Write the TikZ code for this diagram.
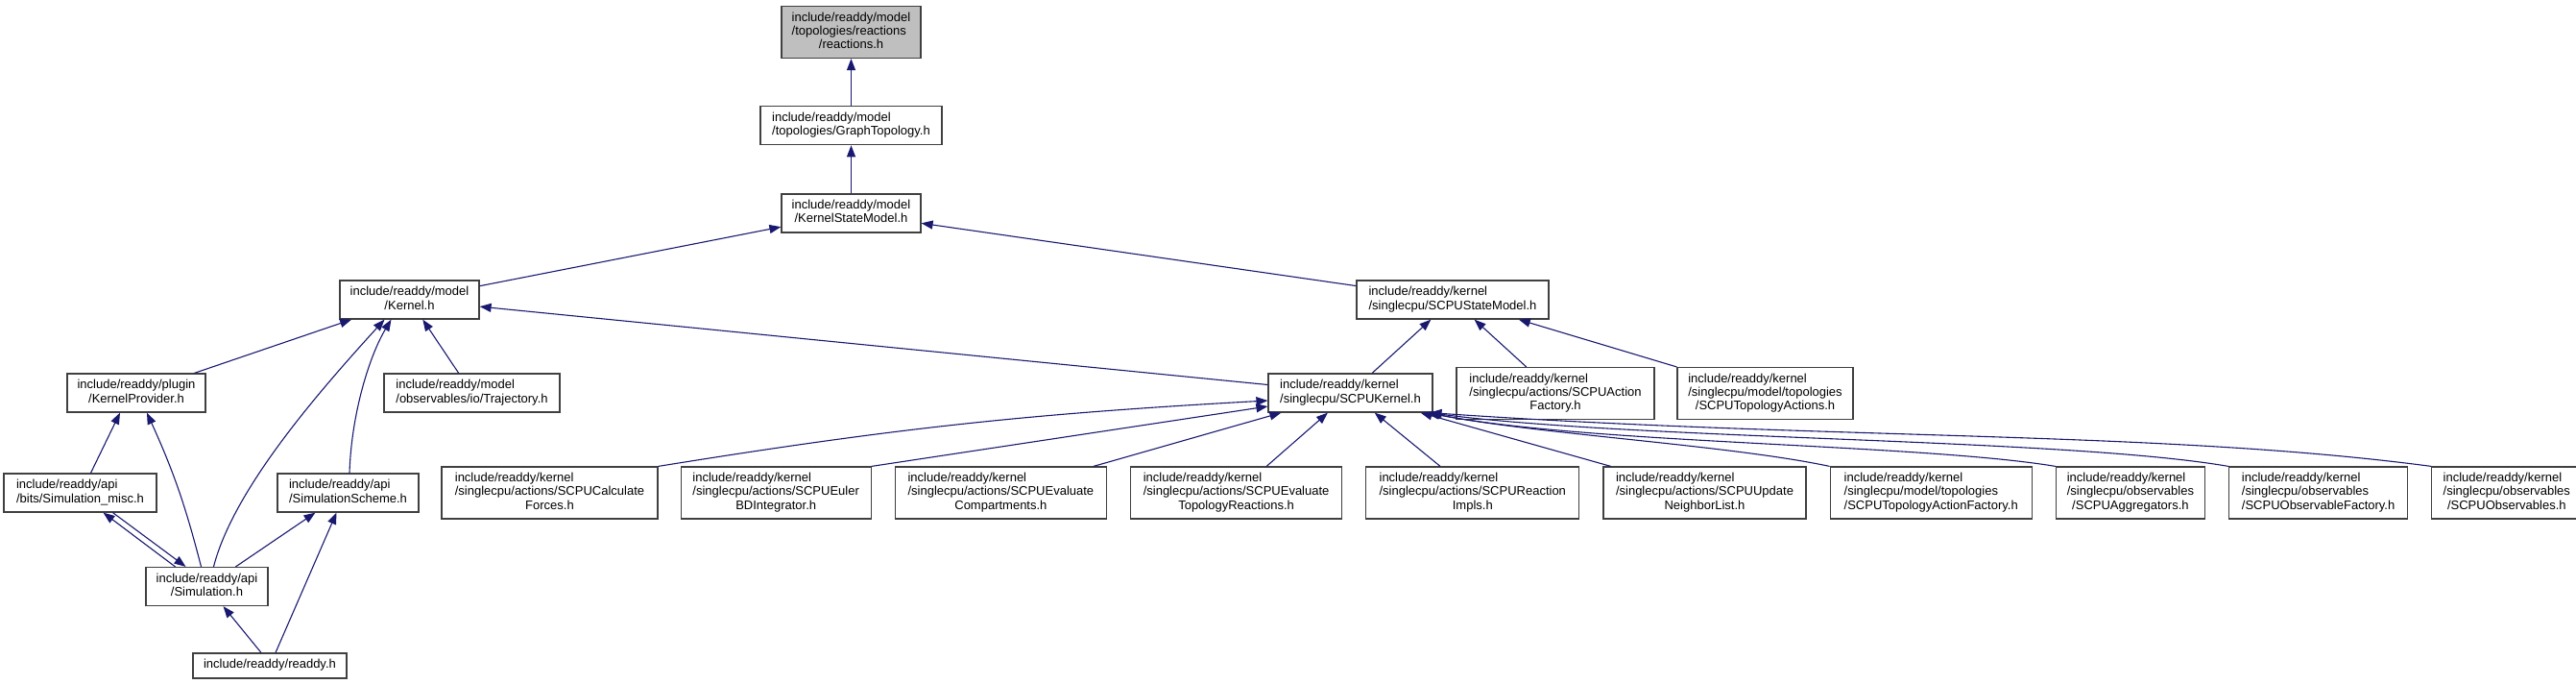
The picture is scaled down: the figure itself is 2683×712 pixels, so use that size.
\documentclass[tikz,border=0pt]{standalone}
\usepackage{fontspec}
\newfontfamily\dxfont{Liberation Sans}
\usepackage{tikz}
\usetikzlibrary{positioning,calc,arrows.meta}
\usepackage{xcolor}
\definecolor{edgeblue}{HTML}{191970}
\definecolor{rootgray}{HTML}{BFBFBF}
\newcommand{\oneln}[1]{\begin{tabular}{@{}c@{}}#1\end{tabular}}
\newcommand{\twoln}[2]{\begin{tabular}{@{}l@{}}#1\\\multicolumn{1}{@{}c@{}}{#2}\end{tabular}}
\newcommand{\threeln}[3]{\begin{tabular}{@{}l@{}}#1\\#2\\\multicolumn{1}{@{}c@{}}{#3}\end{tabular}}

\begin{document}
\begin{tikzpicture}[x=1pt,y=-1pt,
    file/.style={rectangle,draw=black!75,line width=1.2pt,fill=white,inner sep=0pt,font=\dxfont\fontsize{13}{14.3}\selectfont},
    one/.style={file,minimum height=26pt},
    two/.style={file,minimum height=40pt},
    three/.style={file,minimum height=54pt},
    dep/.style={draw=edgeblue,line width=1.1pt,-{Triangle[length=12pt,width=9pt]}}]

\useasboundingbox (0,0) rectangle (2683,712);

% Kopf der Kette
\node[three,fill=rootgray,minimum width=145pt] (reac) at (886.5,33.5) {\threeln{include/readdy/model}{/topologies/reactions}{/reactions.h}};
\node[two,minimum width=189pt,below=49pt of reac] (graph) {\twoln{include/readdy/model}{/topologies/GraphTopology.h}};
\node[two,minimum width=145pt,below=50pt of graph] (ksm) {\twoln{include/readdy/model}{/KernelStateModel.h}};

% Kernel-Ebene
\node[two,minimum width=145pt] (kern) at (426.5,312) {\twoln{include/readdy/model}{/Kernel.h}};
\node[two,minimum width=200pt] (sstate) at (1513,312) {\twoln{include/readdy/kernel}{/singlecpu/SCPUStateModel.h}};

\node[two,minimum width=144pt] (kprov) at (142,409) {\twoln{include/readdy/plugin}{/KernelProvider.h}};
\node[two,minimum width=183pt] (traj) at (491.5,409) {\twoln{include/readdy/model}{/observables/io/Trajectory.h}};
\node[two,minimum width=171pt] (skern) at (1406.5,409) {\twoln{include/readdy/kernel}{/singlecpu/SCPUKernel.h}};
\node[three,minimum width=206pt] (sfact) at (1620,409.5) {\threeln{include/readdy/kernel}{/singlecpu/actions/SCPUAction}{Factory.h}};
\node[three,minimum width=183pt] (stopo) at (1838.5,409.5) {\threeln{include/readdy/kernel}{/singlecpu/model/topologies}{/SCPUTopologyActions.h}};

% API
\node[two,minimum width=159pt] (smisc) at (83.5,513) {\twoln{include/readdy/api}{/bits/Simulation\_misc.h}};
\node[two,minimum width=147pt] (sscheme) at (362.5,513) {\twoln{include/readdy/api}{/SimulationScheme.h}};
\node[two,minimum width=127pt] (sim) at (215.5,610.5) {\twoln{include/readdy/api}{/Simulation.h}};
\node[one,minimum width=160pt] (readdy) at (281,693) {\oneln{include/readdy/readdy.h}};

% singlecpu-Reihe
\node[three,minimum width=225pt] (calc) at (572.5,513) {\threeln{include/readdy/kernel}{/singlecpu/actions/SCPUCalculate}{Forces.h}};
\node[three,minimum width=198pt,right=23pt of calc] (euler) {\threeln{include/readdy/kernel}{/singlecpu/actions/SCPUEuler}{BDIntegrator.h}};
\node[three,minimum width=220pt,right=24pt of euler] (ecomp) {\threeln{include/readdy/kernel}{/singlecpu/actions/SCPUEvaluate}{Compartments.h}};
\node[three,minimum width=220pt,right=24pt of ecomp] (etopo) {\threeln{include/readdy/kernel}{/singlecpu/actions/SCPUEvaluate}{TopologyReactions.h}};
\node[three,minimum width=222pt,right=24pt of etopo] (rimpl) {\threeln{include/readdy/kernel}{/singlecpu/actions/SCPUReaction}{Impls.h}};
\node[three,minimum width=211pt,right=24pt of rimpl] (unl) {\threeln{include/readdy/kernel}{/singlecpu/actions/SCPUUpdate}{NeighborList.h}};
\node[three,minimum width=210pt,right=24pt of unl] (tafac) {\threeln{include/readdy/kernel}{/singlecpu/model/topologies}{/SCPUTopologyActionFactory.h}};
\node[three,minimum width=155pt,right=24pt of tafac] (aggr) {\threeln{include/readdy/kernel}{/singlecpu/observables}{/SCPUAggregators.h}};
\node[three,minimum width=186pt,right=24pt of aggr] (ofac) {\threeln{include/readdy/kernel}{/singlecpu/observables}{/SCPUObservableFactory.h}};
\node[three,minimum width=156pt,right=24pt of ofac] (obs) {\threeln{include/readdy/kernel}{/singlecpu/observables}{/SCPUObservables.h}};

% Abhaengigkeiten
\draw[dep] (graph) -- (reac);
\draw[dep] (ksm) -- (graph);
\draw[dep] (kern) -- (ksm);
\draw[dep] (sstate) -- (ksm);
\draw[dep] (kprov) -- (kern);
\draw[dep] (traj) -- (kern);
\draw[dep] (skern) -- (kern);
\draw[dep] ([xshift=7pt]sim.north) .. controls (243,510) and (330,410) .. ([xshift=-26pt]kern.south);
\draw[dep] ([xshift=1.5pt]sscheme.north) .. controls (366,430) and (385,370) .. ([xshift=-19pt]kern.south);
\draw[dep] ([xshift=11pt]smisc.north) -- ([xshift=-17pt]kprov.south);
\draw[dep] ([xshift=-6pt]sim.north) to[bend right=5] ([xshift=11pt]kprov.south);
\draw[dep] ([xshift=-33pt]sim.north) -- ([xshift=24pt]smisc.south);
\draw[dep] ([xshift=34pt]smisc.south) -- ([xshift=-22pt]sim.north);
\draw[dep] ([xshift=30pt]sim.north) -- ([xshift=-34pt]sscheme.south);
\draw[dep] ([xshift=-9pt]readdy.north) -- ([xshift=17pt]sim.south);
\draw[dep] ([xshift=6pt]readdy.north) -- ([xshift=-12pt]sscheme.south);

\draw[dep] (skern) -- (sstate);
\draw[dep] (sfact) -- (sstate);
\draw[dep] (stopo) -- (sstate);

\draw[dep] (calc.north east) to[bend left=3] ([yshift=-8pt]skern.west);
\draw[dep] (euler.north east) -- ([yshift=-14pt]skern.west);
\draw[dep] (ecomp) -- (skern);
\draw[dep] (etopo) -- (skern);
\draw[dep] (rimpl) -- (skern);
\draw[dep] (unl) -- (skern);
\draw[dep] (tafac.north west) .. controls (1800,463) and (1600,452) .. ([xshift=-6pt]skern.south east);
\draw[dep] (aggr.north west) .. controls (2000,462) and (1650,462) .. ([xshift=-5pt]skern.south east);
\draw[dep] (ofac.north west) .. controls (2150,456) and (1700,458) .. ([xshift=-4pt]skern.south east);
\draw[dep] (obs.north west) .. controls (2250,448) and (1900,458) .. ([xshift=-3pt]skern.south east);

\end{tikzpicture}
\end{document}
